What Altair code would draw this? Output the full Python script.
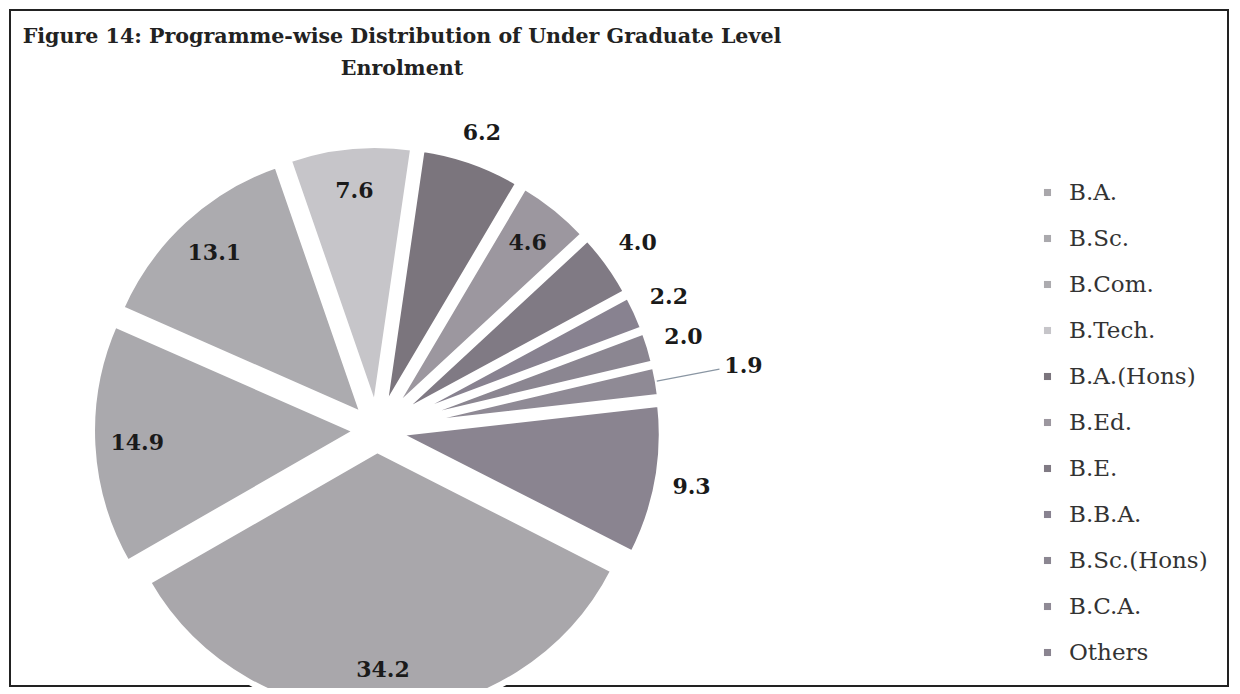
import math
import altair as alt
import pandas as pd

# ---- data ----
programmes = ["B.A.", "B.Sc.", "B.Com.", "B.Tech.", "B.A.(Hons)", "B.Ed.", "B.E.",
              "B.B.A.", "B.Sc.(Hons)", "B.C.A.", "Others"]
shares = [34.2, 14.9, 13.1, 7.6, 6.2, 4.6, 4.0, 2.2, 2.0, 1.9, 9.3]
slice_colors = ["#a9a7ab", "#aaa9ad", "#acabaf", "#c6c5c9", "#7b757d", "#9c979f",
                "#807a84", "#888290", "#8b8691", "#8f8a95", "#8a8490"]
title_lines = ["Figure 14: Programme-wise Distribution of Under Graduate Level",
               "Enrolment"]

# ---- label placement style ----
outside_labels = ["B.A.(Hons)", "B.E.", "B.B.A.", "B.Sc.(Hons)", "Others"]
leader_labels = ["B.C.A."]

df = pd.DataFrame({"programme": programmes, "share": shares,
                   "order": list(range(len(programmes)))})

W, H = 1218, 676
CX, CY = 367, 420
R = 265
RV = R - 3
D = 20
START = math.radians(117)


def in_list(lst):
    return "indexof([" + ",".join(f"'{s}'" for s in lst) + "], datum.programme) >= 0"


base = (
    alt.Chart(df)
    .transform_window(cum="sum(share)", sort=[alt.SortField("order", order="ascending")],
                      frame=[None, 0])
    .transform_joinaggregate(total="sum(share)")
    .transform_calculate(a0=f"{START} + 2*PI*(datum.cum - datum.share)/datum.total")
    .transform_calculate(a1=f"{START} + 2*PI*datum.cum/datum.total")
    .transform_calculate(mid="(datum.a0 + datum.a1)/2")
    .transform_calculate(px=f"{CX} + {D}*sin(datum.mid)")
    .transform_calculate(py=f"{CY} - {D}*cos(datum.mid)")
    .transform_calculate(
        mode=f"{in_list(leader_labels)} ? 'leader' : ({in_list(outside_labels)} ? 'out' : 'in')")
    .transform_calculate(
        lr=f"datum.mode == 'in' ? {D + 0.84 * RV} : (datum.mode == 'out' ? "
           f"{D + RV + 16} + 20*abs(sin(datum.mid)) + 11*abs(cos(datum.mid)) : {D + RV + 90})")
    .transform_calculate(lx=f"{CX} + datum.lr*sin(datum.mid)")
    .transform_calculate(ly=f"{CY} - datum.lr*cos(datum.mid)")
)

arcs = base.mark_arc(outerRadius=R, stroke="white", strokeWidth=6).encode(
    x=alt.X("px:Q", scale=None, axis=None),
    y=alt.Y("py:Q", scale=None, axis=None),
    theta=alt.Theta("a0:Q", scale=None, stack=None),
    theta2="a1:Q",
    color=alt.Color(
        "programme:N",
        scale=alt.Scale(domain=programmes, range=slice_colors),
        legend=alt.Legend(
            title=None, orient="none", legendX=1026, legendY=171,
            symbolType="square", symbolSize=50, symbolStrokeWidth=0,
            labelFont="DejaVu Serif", labelFontSize=23, labelColor="#333333",
            rowPadding=22, labelOffset=10, padding=0,
        ),
    ),
)

leader = (
    base.transform_filter("datum.mode == 'leader'")
    .transform_calculate(x1=f"{CX} + {D + RV + 2}*sin(datum.mid)")
    .transform_calculate(y1=f"{CY} - {D + RV + 2}*cos(datum.mid)")
    .transform_calculate(x2="datum.lx - 24")
    .transform_calculate(y2="datum.ly + 3")
    .mark_rule(color="#8a96a3", strokeWidth=1.2)
    .encode(
        x=alt.X("x1:Q", scale=None, axis=None),
        y=alt.Y("y1:Q", scale=None, axis=None),
        x2="x2:Q",
        y2="y2:Q",
    )
)

labels = base.mark_text(
    font="DejaVu Serif", fontWeight="bold", fontSize=22, color="#1a1a1a",
    align="center", baseline="middle",
).encode(
    x=alt.X("lx:Q", scale=None, axis=None),
    y=alt.Y("ly:Q", scale=None, axis=None),
    text=alt.Text("share:Q", format=".1f"),
)

title = alt.Chart(alt.Data(values=[{}])).mark_text(
    text=title_lines, font="DejaVu Serif", fontWeight="bold", fontSize=20.6,
    lineHeight=32, align="center", baseline="alphabetic", color="#222222",
).encode(x=alt.value(392), y=alt.value(33))

chart = (
    alt.layer(arcs, leader, labels, title)
    .properties(width=W, height=H, padding=2,
                autosize=alt.AutoSizeParams(type="none"), background="white")
    .configure_view(stroke="#222222", strokeWidth=2)
)

chart.save("out.html", embed_options={"renderer": "svg", "actions": False})
